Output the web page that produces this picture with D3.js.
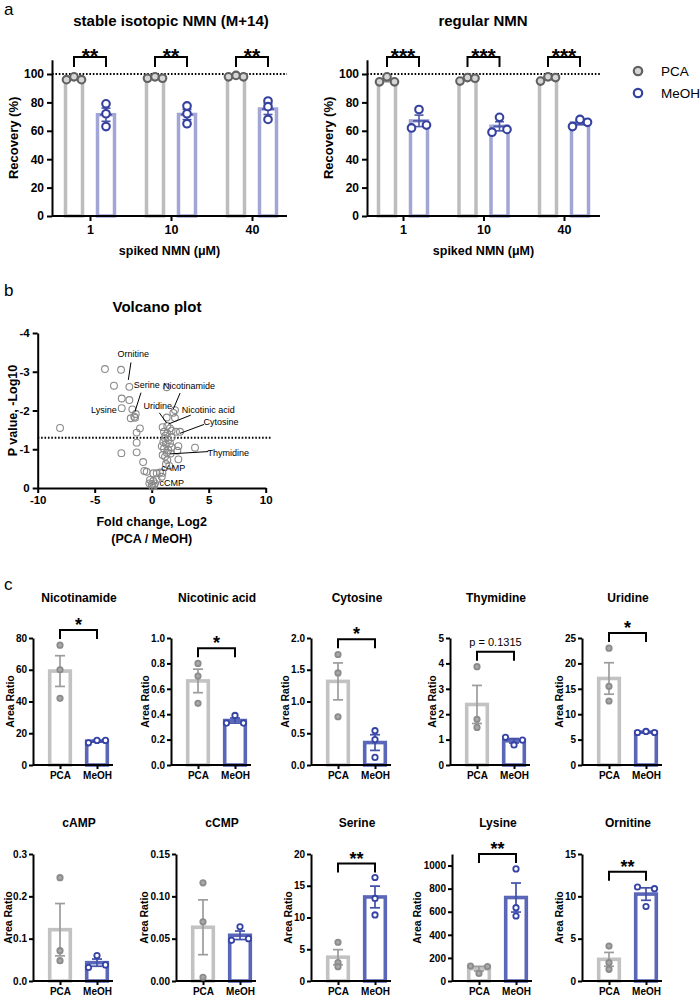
<!DOCTYPE html>
<html><head><meta charset="utf-8">
<script src="https://cdn.jsdelivr.net/npm/d3@7/dist/d3.min.js"></script>
<style>body{margin:0;background:#fff}svg{display:block}</style>
</head><body>
<svg id="fig" width="700" height="999"></svg>
<script>
// ---------------- DATA ----------------
// Panel a
const doses = ["1", "10", "40"];
const methods = ["PCA", "MeOH"];
const isoPCA  = [[96, 98, 96], [97, 98, 97], [98, 99, 98]];
const isoMeOH = [[79, 72, 63], [77.5, 72, 65], [81, 77, 68]];
const regPCA  = [[94.5, 98, 94.5], [95, 97.5, 97], [95, 98, 97.5]];
const regMeOH = [[62, 75, 64], [59, 69.5, 61], [63, 68, 66]];
const isoStars = ["**", "**", "**"];
const regStars = ["***", "***", "***"];
const recoveryTicks = [0, 20, 40, 60, 80, 100];

// Panel b (volcano)
const volcanoFC = [-8.04,-4.10,-2.69,-3.31,-1.96,-2.63,-1.96,-2.63,-1.70,-1.40,
  -1.53,-1.84,-1.46,-1.03,-1.32,-1.32,-1.32,-2.66,-0.75,-0.65,
  -0.44,0.14,0.44,0.73,0.88,-0.15,0.14,0.29,0.00,-0.21,
  0.44,0.05,0.20,1.32,2.04,1.90,1.32,2.04,0.96,1.37,
  1.61,1.08,1.37,1.75,2.13,2.48,1.17,1.46,1.25,1.61,
  1.08,1.46,1.75,0.88,1.32,0.96,1.67,1.17,1.37,1.25,
  1.54,2.34,2.25,2.34,3.80,1.02,1.75,0.94,1.20];
const volcanoP = [-1.55,-3.07,-3.05,-2.64,-2.61,-2.31,-2.27,-2.06,-2.03,-1.91,
  -1.84,-1.80,-1.81,-1.54,-1.43,-1.17,-0.92,-0.90,-0.67,-0.44,
  -0.42,-0.38,-0.38,-0.40,-0.29,-0.21,-0.18,-0.12,-0.10,-0.12,
  -0.22,-0.04,-0.06,-2.60,-2.01,-1.94,-1.82,-1.81,-1.57,-1.60,
  -1.54,-1.45,-1.41,-1.48,-1.45,-1.45,-1.28,-1.24,-1.14,-1.15,
  -1.02,-0.98,-1.05,-1.08,-0.91,-0.85,-0.89,-0.81,-0.72,-0.62,
  -0.57,-1.08,-0.96,-0.74,-1.04,-1.19,-1.31,-0.39,-1.35];
const volcanoXTicks = [-10, -5, 0, 5, 10];
const volcanoYTicks = [-4, -3, -2, -1, 0];
const volcanoThreshold = -1.3;
// annotation labels (text anchor and leader line in data units)
const volLabelNames = ["Ornitine","Serine","Lysine","Nicotinamide","Uridine","Nicotinic acid","Cytosine","Thymidine","cAMP","cCMP"];
const volLabelFC = [-1.61, -0.44, -4.19, 3.28, 0.54, 4.97, 6.08, 6.72, 1.90, 1.76];
const volLabelP  = [-3.46, -2.65, -2.01, -2.63, -2.11, -2.01, -1.72, -0.91, -0.52, -0.14];
const volLeaders = [[-1.82,-3.24,-2.05,-2.79],[-0.94,-2.46,-1.46,-1.98],null,[2.49,-2.45,1.90,-2.04],
  [0.67,-1.94,1.31,-1.68],[3.42,-1.88,1.46,-1.65],[4.59,-1.64,2.48,-1.41],[4.97,-0.94,1.61,-0.88],null,null];

// Panel c
const metabolites = ["Nicotinamide","Nicotinic acid","Cytosine","Thymidine","Uridine","cAMP","cCMP","Serine","Lysine","Ornitine"];
const pcaVals = [[75.5,60,42],[0.80,0.70,0.486],[1.74,1.45,0.76],[3.87,1.80,1.48],[23,15.5,12.6],
  [0.244,0.0716,0.048],[0.116,0.070,0.0044],[6.1,2.9,2.25],[129,66,125],[4.13,2.16,1.38]];
const meohVals = [[14,15.5,15.5],[0.33,0.39,0.33],[0.54,0.40,0.12],[1.09,0.79,0.98],[6.4,6.6,6.4],
  [0.032,0.060,0.038],[0.048,0.064,0.050],[16.3,13.0,10.4],[971,635,563],[11.1,8.8,10.9]];
const yMaxes = [80, 1.0, 2.0, 5, 25, 0.3, 0.15, 20, 1100, 15];
const ySteps = [20, 0.2, 0.5, 1, 5, 0.1, 0.05, 5, 200, 5];
const yDecimals = [0, 1, 1, 0, 0, 1, 2, 0, 0, 0];
const sigLabels = ["*", "*", "*", "p = 0.1315", "*", "", "", "**", "**", "**"];
const bracketVals = [85, 0.92, 1.98, 4.46, 26, null, null, 18.5, 1100, 12.9];

// ---------------- LAYOUT / STYLE ----------------
const FONT = '"Liberation Sans", Arial, Helvetica, sans-serif';
const svg = d3.select("#fig").style("font-family", FONT);

function text(g, x, y, s, size, weight, anchor, fill) {
  return g.append("text").attr("x", x).attr("y", y).text(s)
    .attr("font-size", size).attr("font-weight", weight || "normal")
    .attr("text-anchor", anchor || "middle").attr("fill", fill || "#000");
}
function styleAxis(sel, fs) {
  sel.selectAll(".domain").attr("stroke", "#000").attr("stroke-width", 2);
  sel.selectAll(".tick line").attr("stroke", "#000").attr("stroke-width", 2);
  sel.selectAll(".tick text").attr("font-size", fs).attr("font-weight", "bold")
    .attr("font-family", FONT).attr("fill", "#000");
}
// x offsets for points: spread horizontally only when points collide
function offsets(vals, yScale, spread, thr) {
  const ys = vals.map(yScale);
  let col = false;
  for (let i = 0; i < ys.length; i++) for (let j = i + 1; j < ys.length; j++)
    if (Math.abs(ys[i] - ys[j]) < thr) col = true;
  return vals.map((v, i) => col ? (i - (vals.length - 1) / 2) * spread : 0);
}

// panel letters
text(svg, 4, 15, "a", 17, "normal", "start");
text(svg, 4, 296, "b", 17, "normal", "start");
text(svg, 4, 590, "c", 17, "normal", "start");

// ---------------- PANEL A ----------------
function recoveryPanel(cfg) {
  const g = svg.append("g");
  const y = d3.scaleLinear().domain([0, 110]).range([216, 59.8]);
  const xg = d3.scalePoint().domain(doses).range(cfg.groupRange);
  const xs = d3.scalePoint().domain(methods).range([-16, 16]);
  const barStroke = ["#bdbdbd", "#a2a6d6"];
  const errCol = ["#9a9a9a", "#4a55aa"];
  const ptStroke = ["#616161", "#35419f"];
  const ptFill = ["#d6d6d6", "#ffffff"];
  const data = [cfg.pca, cfg.meoh];

  // bars
  methods.forEach((m, mi) => doses.forEach((d, di) => {
    const pts = data[mi][di];
    const mean = d3.mean(pts);
    const cx = xg(d) + xs(m);
    g.append("rect").attr("x", cx - 8.5).attr("y", y(mean)).attr("width", 17)
      .attr("height", y(0) - y(mean)).attr("fill", "#fff")
      .attr("stroke", barStroke[mi]).attr("stroke-width", 3.5);
  }));
  // axes
  const ya = g.append("g").attr("transform", `translate(${cfg.axisX},0)`)
    .call(d3.axisLeft(y).tickValues(recoveryTicks).tickSize(5).tickSizeOuter(0).tickPadding(3));
  styleAxis(ya, 12);
  const xa = g.append("g").attr("transform", `translate(0,${y(0)})`)
    .call(d3.axisBottom(xg).tickSize(5).tickSizeOuter(0).tickPadding(4));
  xa.select(".domain").remove();
  styleAxis(xa, 12.5);
  g.append("line").attr("x1", cfg.axisX).attr("x2", cfg.axisEnd).attr("y1", y(0)).attr("y2", y(0))
    .attr("stroke", "#000").attr("stroke-width", 2);
  // dotted 100% line
  g.append("line").attr("x1", cfg.axisX).attr("x2", cfg.axisEnd).attr("y1", y(100)).attr("y2", y(100))
    .attr("stroke", "#000").attr("stroke-width", 2).attr("stroke-dasharray", "1.6,1.8");
  // error bars + points
  methods.forEach((m, mi) => doses.forEach((d, di) => {
    const pts = data[mi][di];
    const mean = d3.mean(pts);
    const sem = d3.deviation(pts) / Math.sqrt(pts.length);
    const cx = xg(d) + xs(m);
    const eg = g.append("g").attr("stroke", errCol[mi]).attr("stroke-width", 1.6);
    eg.append("line").attr("x1", cx).attr("x2", cx).attr("y1", y(mean - sem)).attr("y2", y(mean + sem));
    eg.append("line").attr("x1", cx - 4.5).attr("x2", cx + 4.5).attr("y1", y(mean - sem)).attr("y2", y(mean - sem));
    eg.append("line").attr("x1", cx - 4.5).attr("x2", cx + 4.5).attr("y1", y(mean + sem)).attr("y2", y(mean + sem));
    eg.append("line").attr("x1", cx - 6).attr("x2", cx + 6).attr("y1", y(mean)).attr("y2", y(mean));
    const off = offsets(pts, y, 7.5, 4);
    pts.forEach((v, i) => g.append("circle").attr("cx", cx + off[i]).attr("cy", y(v)).attr("r", 3.8)
      .attr("fill", ptFill[mi]).attr("stroke", ptStroke[mi]).attr("stroke-width", 2.1));
  }));
  // significance brackets
  doses.forEach((d, di) => {
    const x1 = xg(d) + xs("PCA"), x2 = xg(d) + xs("MeOH");
    g.append("path").attr("d", `M${x1},${y(105)}V${y(112)}H${x2}V${y(105)}`)
      .attr("fill", "none").attr("stroke", "#000").attr("stroke-width", 2);
    text(g, (x1 + x2) / 2, y(112) + 6, cfg.stars[di], 21, "bold");
  });
  // labels
  text(g, cfg.titleX, 26, cfg.title, 15, "bold");
  text(g, (cfg.axisX + cfg.axisEnd) / 2, 255, "spiked NMN (μM)", 12.5, "bold");
  text(g, 0, 0, "Recovery (%)", 13, "bold")
    .attr("transform", `translate(${cfg.axisX - 34},${(y(0) + y(110)) / 2}) rotate(-90)`);
}
recoveryPanel({axisX: 52, axisEnd: 287, groupRange: [90, 252], pca: isoPCA, meoh: isoMeOH,
  stars: isoStars, title: "stable isotopic NMN (M+14)", titleX: 171});
recoveryPanel({axisX: 367, axisEnd: 600, groupRange: [403, 564], pca: regPCA, meoh: regMeOH,
  stars: regStars, title: "regular NMN", titleX: 483});

// legend
const legend = svg.append("g");
[["PCA", "#616161", "#d6d6d6"], ["MeOH", "#35419f", "#fff"]].forEach((l, i) => {
  legend.append("circle").attr("cx", 638).attr("cy", 71 + i * 22).attr("r", 4.2)
    .attr("fill", l[2]).attr("stroke", l[1]).attr("stroke-width", 2.2);
  text(legend, 661, 76 + i * 22, l[0], 13.5, "normal", "start");
});

// ---------------- PANEL B (volcano) ----------------
(function () {
  const g = svg.append("g");
  const x = d3.scaleLinear().domain([-10, 10]).range([37.7, 265.7]);
  const y = d3.scaleLinear().domain([0, -4]).range([488, 333]);
  const ya = g.append("g").attr("transform", `translate(${x(-10)},0)`)
    .call(d3.axisLeft(y).tickValues(volcanoYTicks).tickFormat(d => String(d)).tickSize(5).tickSizeOuter(0).tickPadding(3));
  styleAxis(ya, 11.5);
  const xa = g.append("g").attr("transform", `translate(0,${y(0)})`)
    .call(d3.axisBottom(x).tickValues(volcanoXTicks).tickFormat(d => String(d)).tickSize(5).tickSizeOuter(0).tickPadding(3));
  styleAxis(xa, 11.5);
  g.append("line").attr("x1", x(-10)).attr("x2", x(10) + 5).attr("y1", y(volcanoThreshold)).attr("y2", y(volcanoThreshold))
    .attr("stroke", "#000").attr("stroke-width", 2).attr("stroke-dasharray", "1.6,1.8");
  volcanoFC.forEach((fc, i) => g.append("circle").attr("cx", x(fc)).attr("cy", y(volcanoP[i])).attr("r", 3.4)
    .attr("fill", "none").attr("stroke", "#8a8a8a").attr("stroke-width", 1.1));
  volLabelNames.forEach((n, i) => {
    text(g, x(volLabelFC[i]), y(volLabelP[i]), n, 9, "normal").attr("dy", "0.35em");
    const l = volLeaders[i];
    if (l) g.append("line").attr("x1", x(l[0])).attr("y1", y(l[1])).attr("x2", x(l[2])).attr("y2", y(l[3]))
      .attr("stroke", "#000").attr("stroke-width", 1);
  });
  text(g, 157, 312, "Volcano plot", 15, "bold");
  text(g, 151.7, 526, "Fold change, Log2", 12.5, "bold");
  text(g, 151.7, 543, "(PCA / MeOH)", 12.5, "bold");
  text(g, 0, 0, "P value, -Log10", 12.5, "bold")
    .attr("transform", `translate(17,${(y(0) + y(-4)) / 2}) rotate(-90)`);
})();

// ---------------- PANEL C ----------------
const cAxisX = [33, 171, 311, 450, 582, 33, 176, 311, 452, 582];
const cBaseY = [765, 765, 765, 765, 765, 981, 981, 981, 981, 981];
const cTitleY = [601.5, 601.5, 601.5, 601.5, 601.5, 826.5, 826.5, 826.5, 826.5, 826.5];
metabolites.forEach((name, i) => {
  const g = svg.append("g");
  const ax = cAxisX[i], y0 = cBaseY[i];
  const y = d3.scaleLinear().domain([0, yMaxes[i]]).range([y0, y0 - 127]);
  const x = d3.scalePoint().domain(methods).range([ax + 27, ax + 64]);
  const barStroke = ["#c2c2c2", "#5a67b8"];
  const errCol = ["#9c9c9c", "#4250aa"];
  const ptStroke = ["#8c8c8c", "#3543a6"];
  const ptFill = ["#a9a9a9", "#ffffff"];
  const data = [pcaVals[i], meohVals[i]];
  methods.forEach((m, mi) => {
    const mean = d3.mean(data[mi]);
    g.append("rect").attr("x", x(m) - 10.3).attr("y", y(mean)).attr("width", 20.6)
      .attr("height", y(0) - y(mean)).attr("fill", "#fff")
      .attr("stroke", barStroke[mi]).attr("stroke-width", 3.6);
  });
  const ticks = d3.range(0, yMaxes[i] + ySteps[i] * 0.01, ySteps[i]);
  const ya = g.append("g").attr("transform", `translate(${ax},0)`)
    .call(d3.axisLeft(y).tickValues(ticks).tickFormat(d3.format(`.${yDecimals[i]}f`)).tickSize(4).tickSizeOuter(0).tickPadding(2));
  styleAxis(ya, 10);
  let maxW = 0;
  ya.selectAll(".tick text").each(function () { maxW = Math.max(maxW, this.getComputedTextLength()); });
  const xa = g.append("g").attr("transform", `translate(0,${y0})`)
    .call(d3.axisBottom(x).tickSize(4).tickSizeOuter(0).tickPadding(3));
  xa.select(".domain").remove();
  styleAxis(xa, 10);
  g.append("line").attr("x1", ax).attr("x2", ax + 80).attr("y1", y0).attr("y2", y0)
    .attr("stroke", "#000").attr("stroke-width", 2);
  methods.forEach((m, mi) => {
    const pts = data[mi];
    const mean = d3.mean(pts);
    const sem = d3.deviation(pts) / Math.sqrt(pts.length);
    const cx = x(m);
    const eg = g.append("g").attr("stroke", errCol[mi]).attr("stroke-width", 1.7);
    eg.append("line").attr("x1", cx).attr("x2", cx).attr("y1", y(mean - sem)).attr("y2", y(mean + sem));
    eg.append("line").attr("x1", cx - 5).attr("x2", cx + 5).attr("y1", y(mean - sem)).attr("y2", y(mean - sem));
    eg.append("line").attr("x1", cx - 5).attr("x2", cx + 5).attr("y1", y(mean + sem)).attr("y2", y(mean + sem));
    const off = offsets(pts, y, 8.5, 4);
    pts.forEach((v, k) => g.append("circle").attr("cx", cx + off[k]).attr("cy", y(v)).attr("r", 2.7)
      .attr("fill", ptFill[mi]).attr("stroke", ptStroke[mi]).attr("stroke-width", 1.8));
  });
  if (bracketVals[i] !== null) {
    const by = y(bracketVals[i]);
    g.append("path").attr("d", `M${x("PCA")},${by + 9}V${by}H${x("MeOH")}V${by + 9}`)
      .attr("fill", "none").attr("stroke", "#000").attr("stroke-width", 2);
    const lab = sigLabels[i];
    if (lab.startsWith("p")) text(g, (x("PCA") + x("MeOH")) / 2, by - 6, lab, 11, "normal");
    else text(g, (x("PCA") + x("MeOH")) / 2, by + 1, lab, 18, "bold");
  }
  text(g, ax + 46, cTitleY[i], name, 12, "bold");
  text(g, 0, 0, "Area Ratio", 10.5, "bold")
    .attr("transform", `translate(${Math.max(12, ax - 8.3 - maxW)},${y0 - 63.5}) rotate(-90)`);
});
</script>
</body></html>
